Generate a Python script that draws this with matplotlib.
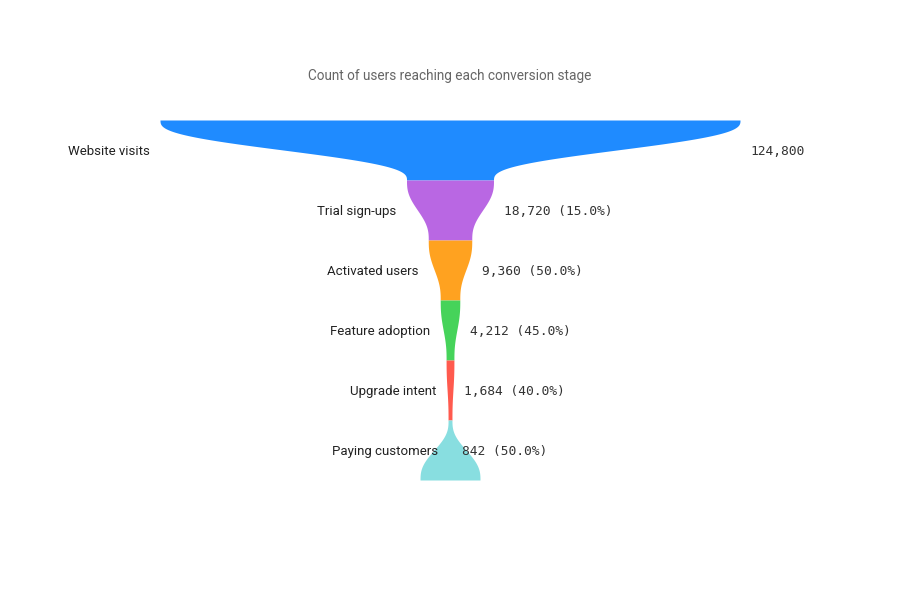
import matplotlib
matplotlib.use("Agg")
import matplotlib.pyplot as plt
import numpy as np

# funnel data
stages = ["Website visits", "Trial sign-ups", "Activated users",
          "Feature adoption", "Upgrade intent", "Paying customers"]
users = [124800, 18720, 9360, 4212, 1684, 842]
colors = ["#1f8bff", "#b967e3", "#ffa220", "#46d35a", "#ff5a4e", "#88dee0"]
tail_users = 12900  # width the last band flares out to

title = "Count of users reaching each conversion stage"

fig = plt.figure(figsize=(9, 6), dpi=100)
ax = fig.add_axes([0, 0, 1, 1])
ax.axis("off")

# x in users (centred), y in stage index; 580 px for the top stage, 60 px per band
span = max(users) * 900 / 580
ax.set_xlim(-span / 2, span / 2)
ax.set_ylim(8, -2)

t = np.linspace(0, 1, 120)
ease = 6 * t**5 - 15 * t**4 + 10 * t**3
bottoms = users[1:] + [tail_users]

for i, (name, v) in enumerate(zip(stages, users)):
    w = v + (bottoms[i] - v) * ease
    ax.fill_betweenx(i + t, -w / 2, w / 2, color=colors[i], lw=0)

    ax.annotate(name, xy=(-v / 2, i + 0.5), xytext=(-10, -1.5),
                textcoords="offset pixels", ha="right", va="center",
                fontsize=9.5, family="Roboto", color="#222222")
    if i == 0:
        txt = f"{v:,}"
    else:
        txt = f"{v:,} ({v / users[i - 1] * 100:.1f}%)"
    ax.annotate(txt, xy=(v / 2, i + 0.5), xytext=(10, -1.5),
                textcoords="offset pixels", ha="left", va="center",
                fontsize=9.3, family="DejaVu Sans Mono", color="#333333")

fig.text(0.5, 1 - 76 / 600, title, ha="center", va="center",
         fontsize=9.8, family="Roboto", color="#666666")

fig.savefig("out.png", dpi=100)
